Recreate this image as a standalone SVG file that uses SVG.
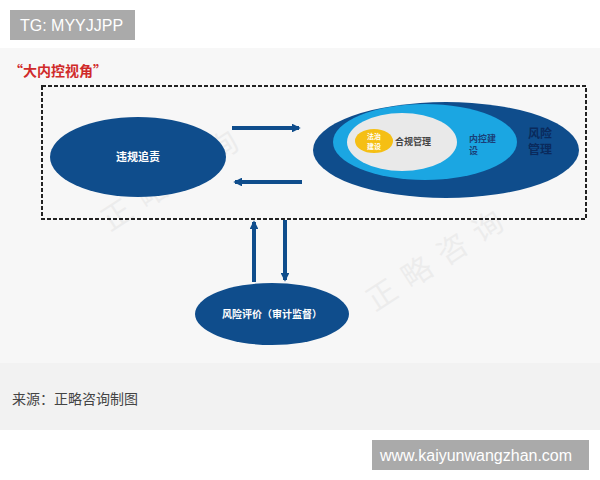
<svg xmlns="http://www.w3.org/2000/svg" width="600" height="480" viewBox="0 0 600 480">
<style>
.cjk{font-family:"Noto Sans CJK SC","Noto Sans",sans-serif}
.lat{font-family:"Liberation Sans",Arial,sans-serif}
.dark{fill:#0f4d8c}
.wm{font-family:"Noto Sans CJK SC",sans-serif;font-size:30px;fill:#e0e0e0;fill-opacity:0.45}
.conn{stroke:#0f4d8c;stroke-width:4;fill:none}
</style>
<defs>
<marker id="ah" viewBox="0 0 10 10" refX="8" refY="5" markerWidth="2.2" markerHeight="2.2" orient="auto" markerUnits="strokeWidth">
<path d="M0,0 L10,5 L0,10 z" fill="#0f4d8c"/>
</marker>
</defs>
<rect width="600" height="480" fill="#ffffff"/>
<rect x="0" y="48" width="600" height="316" fill="#f7f7f7"/>
<rect x="0" y="363" width="600" height="67" fill="#f2f2f2"/>
<g id="tag-top">
<rect x="10" y="10" width="125" height="30" fill="#aaaaaa"/>
<text x="20" y="31" class="lat" font-size="16" fill="#ffffff">TG: MYYJJPP</text>
</g>
<text id="title" x="9" y="76" class="cjk" font-size="14" font-weight="bold" fill="#d02a2a">“大内控视角”</text>
<g id="watermarks">
<text class="wm" transform="translate(110,232) rotate(-33)" letter-spacing="12">正略咨询</text>
<text class="wm" transform="translate(375,312) rotate(-33)" letter-spacing="12">正略咨询</text>
</g>
<rect id="frame" x="42" y="86" width="544" height="133" fill="none" stroke="#222" stroke-width="2" stroke-dasharray="4 2"/>
<g id="node-violation">
<ellipse cx="138" cy="157" rx="88" ry="40" class="dark"/>
<text x="138" y="161" text-anchor="middle" class="cjk" font-size="11" font-weight="bold" fill="#ffffff">违规追责</text>
</g>
<g id="node-risk-mgmt">
<ellipse cx="446" cy="150" rx="133" ry="48" class="dark"/>
<ellipse cx="425" cy="142" rx="92" ry="38" fill="#1ba6e2"/>
<ellipse cx="402" cy="142" rx="55" ry="29" fill="#e9e9e9"/>
<ellipse cx="374" cy="141" rx="19" ry="12" fill="#f5bf14"/>
<text x="374" y="139" text-anchor="middle" class="cjk" font-size="7" font-weight="bold" fill="#ffffff">法治</text>
<text x="374" y="149" text-anchor="middle" class="cjk" font-size="7" font-weight="bold" fill="#ffffff">建设</text>
<text x="413" y="145" text-anchor="middle" class="cjk" font-size="9" font-weight="bold" fill="#444444">合规管理</text>
<text x="469" y="142" class="cjk" font-size="9" font-weight="bold" fill="#1a3f78">内控建</text>
<text x="469" y="154" class="cjk" font-size="9" font-weight="bold" fill="#1a3f78">设</text>
<text x="528" y="138" class="cjk" font-size="12" font-weight="bold" fill="#0a2a5c">风险</text>
<text x="528" y="154" class="cjk" font-size="12" font-weight="bold" fill="#0a2a5c">管理</text>
</g>
<g id="node-risk-eval">
<ellipse cx="272" cy="314" rx="77" ry="31" class="dark"/>
<text x="272" y="318" text-anchor="middle" class="cjk" font-size="10" font-weight="bold" fill="#ffffff">风险评价（审计监督）</text>
</g>
<g id="connectors">
<line x1="232" y1="128" x2="299" y2="128" class="conn" marker-end="url(#ah)"/>
<line x1="302" y1="182" x2="235" y2="182" class="conn" marker-end="url(#ah)"/>
<line x1="254" y1="282" x2="254" y2="222" class="conn" marker-end="url(#ah)"/>
<line x1="285" y1="220" x2="285" y2="280" class="conn" marker-end="url(#ah)"/>
</g>
<text id="caption" x="12" y="404" class="cjk" font-size="14" fill="#444444">来源：正略咨询制图</text>
<g id="tag-bottom">
<rect x="372" y="440" width="217" height="30" fill="#aaaaaa"/>
<text x="380" y="461" class="lat" font-size="16" fill="#ffffff">www.kaiyunwangzhan.com</text>
</g>
</svg>
